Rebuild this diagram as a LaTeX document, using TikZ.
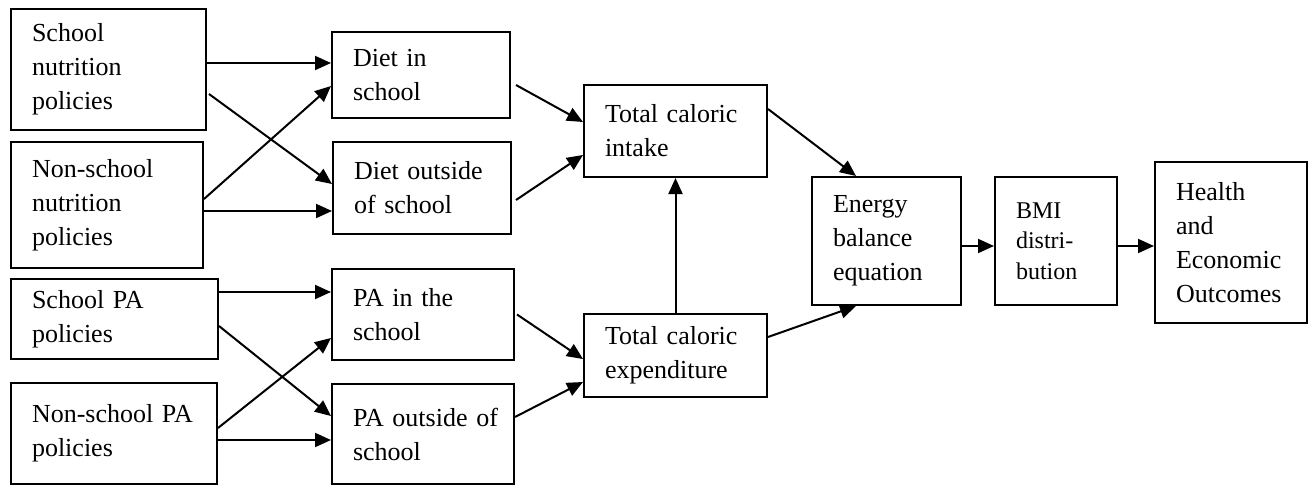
\documentclass[tikz,border=0pt]{standalone}
\usepackage{fontspec}
\setmainfont{Liberation Serif}[WordSpace=0.85]
\usepackage{tikz}
\usetikzlibrary{arrows.meta,positioning,calc}

\begin{document}
\begin{tikzpicture}[
			x=1pt, y=-1pt,
			box/.style={draw, line width=2pt, anchor=north west, inner xsep=21pt, inner ysep=4pt, align=left, font=\fontsize{26}{34}\selectfont},
			arr/.style={line width=2pt, -{Triangle[length=16pt,width=14pt]}}
		]
		\useasboundingbox (0,0) rectangle (1312,485);

		\node[box, minimum width=195pt, minimum height=121pt, text width=153pt] (snp) at (10,8) {School\\nutrition\\policies};
		\node[box, minimum width=192pt, minimum height=126pt, text width=150pt] (nnp) at (10,141) {Non-school\\nutrition\\policies};
		\node[box, minimum width=207pt, minimum height=80pt, text width=165pt] (spa) at (10,278) {School PA\\policies};
		\node[box, minimum width=206pt, minimum height=101pt, text width=164pt] (npa) at (10,382) {\mbox{Non-school PA}\\policies};

		\node[box, minimum width=178pt, minimum height=86pt, text width=136pt] (dis) at (331,31) {Diet in\\school};
		\node[box, minimum width=178pt, minimum height=92pt, text width=136pt] (dos) at (332,141) {Diet outside\\of school};
		\node[box, minimum width=182pt, minimum height=91pt, text width=140pt] (pis) at (331,268) {PA in the\\school};
		\node[box, minimum width=182pt, minimum height=100pt, text width=140pt] (pos) at (331,383) {\mbox{PA outside of}\\school};

		\node[box, minimum width=183pt, minimum height=92pt, text width=141pt] (tci) at (583,84) {Total caloric\\intake};
		\node[box, minimum width=183pt, minimum height=83pt, text width=141pt] (tce) at (583,313) {Total caloric\\expenditure};

		\node[box, minimum width=149pt, minimum height=128pt, text width=107pt] (ebe) at (811,176) {Energy\\balance\\equation};
		\node[box, minimum width=122pt, minimum height=128pt, text width=80pt, font=\fontsize{24}{30.5}\selectfont] (bmi) at (994,176) {BMI\\distri-\\bution};
		\node[box, minimum width=152pt, minimum height=161pt, text width=110pt] (heo) at (1154,161) {Health\\and\\Economic\\Outcomes};

		\draw[arr] ([yshift=6.5pt]snp.east) -- ([yshift=6.5pt]snp.east -| dis.west);
		\draw[arr] ([xshift=2pt,yshift=-24.5pt]snp.east) -- ([yshift=4pt]dos.west);
		\draw[arr] ([yshift=6pt]nnp.east) -- ([yshift=-11pt]dis.west);
		\draw[arr] ([yshift=-6pt]nnp.east) -- ([yshift=-6pt]nnp.east -| dos.west);

		\draw[arr] ([yshift=27pt]spa.east) -- ([yshift=27pt]spa.east -| pis.west);
		\draw[arr] ([yshift=-7pt]spa.east) -- ([yshift=18pt]pos.west);
		\draw[arr] ([yshift=5.5pt]npa.east) -- ([yshift=-23.5pt]pis.west);
		\draw[arr] ([yshift=-6.5pt]npa.east) -- ([yshift=-6.5pt]npa.east -| pos.west);

		\draw[arr] ([xshift=5pt,yshift=-10pt]dis.east) -- ([yshift=9pt]tci.west);
		\draw[arr] ([xshift=4pt,yshift=-12pt]dos.east) -- ([yshift=-24pt]tci.west);
		\draw[arr] ([xshift=2pt]pis.east) -- ([yshift=-3.5pt]tce.west);
		\draw[arr] ([yshift=17pt]pos.east) -- ([yshift=-26.5pt]tce.west);

		\draw[arr] (tce.north) -- (tci.south);
		\draw[arr] ([yshift=22pt]tci.east) -- ([xshift=-30.5pt]ebe.north);
		\draw[arr] ([yshift=18.5pt]tce.east) -- ([xshift=-30.5pt]ebe.south);

		\draw[arr] ([yshift=-5pt]ebe.east) -- ([yshift=-5pt]ebe.east -| bmi.west);
		\draw[arr] ([yshift=-5pt]bmi.east) -- ([yshift=-5pt]bmi.east -| heo.west);
	\end{tikzpicture}
\end{document}
